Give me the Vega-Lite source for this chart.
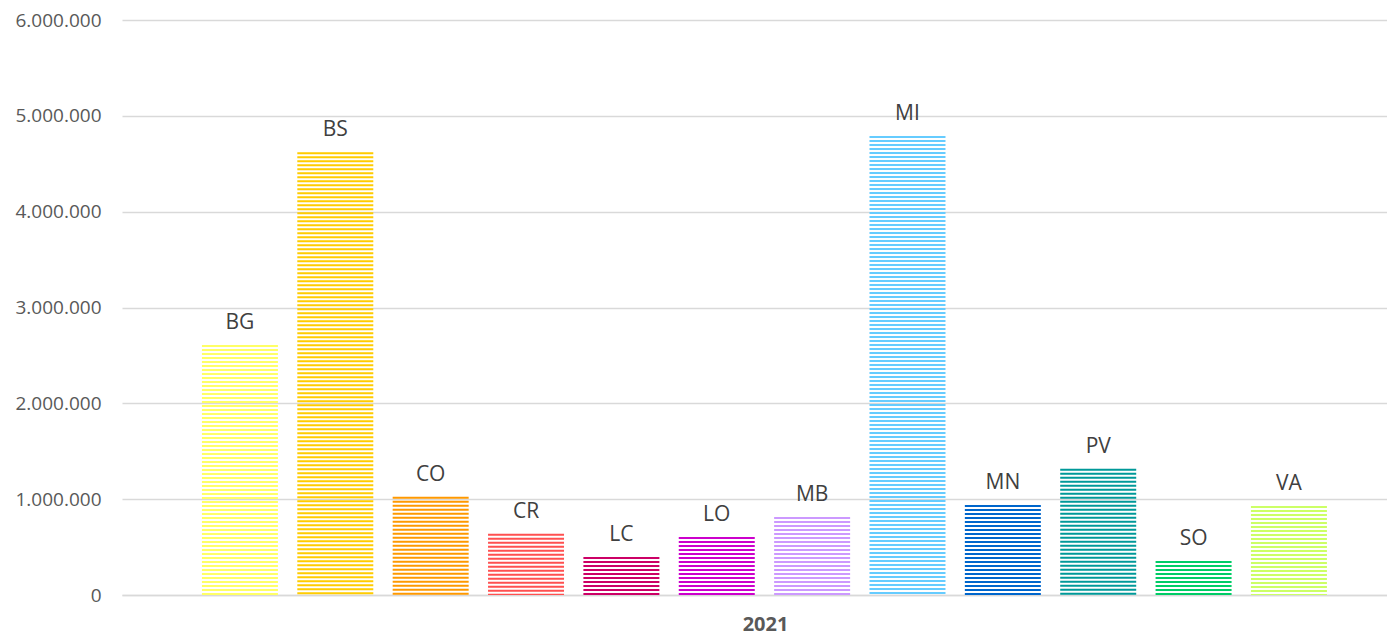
{
  "$schema": "https://vega.github.io/schema/vega-lite/v6.json",
  "autosize": {"type": "none"},
  "width": 1265,
  "height": 575,
  "padding": {"left": 122, "top": 20, "right": 0, "bottom": 40},
  "config": {
    "locale": {"number": {"decimal": ",", "thousands": ".", "grouping": [3], "currency": ["", " €"]}},
    "view": {"stroke": null},
    "font": "Open Sans"
  },
  "data": {
    "values": [
      {"code": "BG", "value": 2610000},
      {"code": "BS", "value": 4620000},
      {"code": "CO", "value": 1025000},
      {"code": "CR", "value": 638000},
      {"code": "LC", "value": 397000},
      {"code": "LO", "value": 606000},
      {"code": "MB", "value": 815000},
      {"code": "MI", "value": 4790000},
      {"code": "MN", "value": 940000},
      {"code": "PV", "value": 1317000},
      {"code": "SO", "value": 355000},
      {"code": "VA", "value": 930000}
    ]
  },
  "encoding": {
    "x": {
      "field": "code",
      "type": "nominal",
      "sort": null,
      "scale": {"paddingInner": 0.203, "paddingOuter": 0.734, "align": 0.571},
      "axis": {
        "labels": false,
        "ticks": false,
        "domainColor": "#d9d9d9",
        "domainWidth": 1.5,
        "title": "2021",
        "titleFont": "Open Sans",
        "titleFontSize": 20,
        "titleFontWeight": "bold",
        "titleColor": "#595959",
        "titleX": 643,
        "titleY": 19,
        "titleAlign": "center",
        "titleBaseline": "top"
      }
    }
  },
  "layer": [
    {
      "mark": {"type": "rule", "strokeWidth": 76, "strokeDash": [2, 2], "strokeCap": "butt"},
      "encoding": {
        "y": {
          "field": "value",
          "type": "quantitative",
          "scale": {"domain": [0, 6000000]},
          "axis": {
            "values": [0, 1000000, 2000000, 3000000, 4000000, 5000000, 6000000],
            "format": ",d",
            "title": null,
            "domain": false,
            "ticks": false,
            "labelFontSize": 19,
            "labelColor": "#595959",
            "labelPadding": 21,
            "gridColor": "#d9d9d9",
            "gridWidth": 1.5
          }
        },
        "y2": {"datum": 0},
        "color": {
          "field": "code",
          "type": "nominal",
          "scale": {
            "domain": ["BG", "BS", "CO", "CR", "LC", "LO", "MB", "MI", "MN", "PV", "SO", "VA"],
            "range": ["#ffff66", "#ffcc00", "#ff9900", "#ff5050", "#cc0066", "#cc00cc", "#cc99ff", "#66ccff", "#0066cc", "#009999", "#00cc66", "#ccff66"]
          },
          "legend": null
        }
      }
    },
    {
      "mark": {"type": "text", "baseline": "alphabetic", "dy": -16, "fontSize": 21, "color": "#404040"},
      "encoding": {
        "y": {"field": "value", "type": "quantitative"},
        "text": {"field": "code"}
      }
    }
  ]
}
